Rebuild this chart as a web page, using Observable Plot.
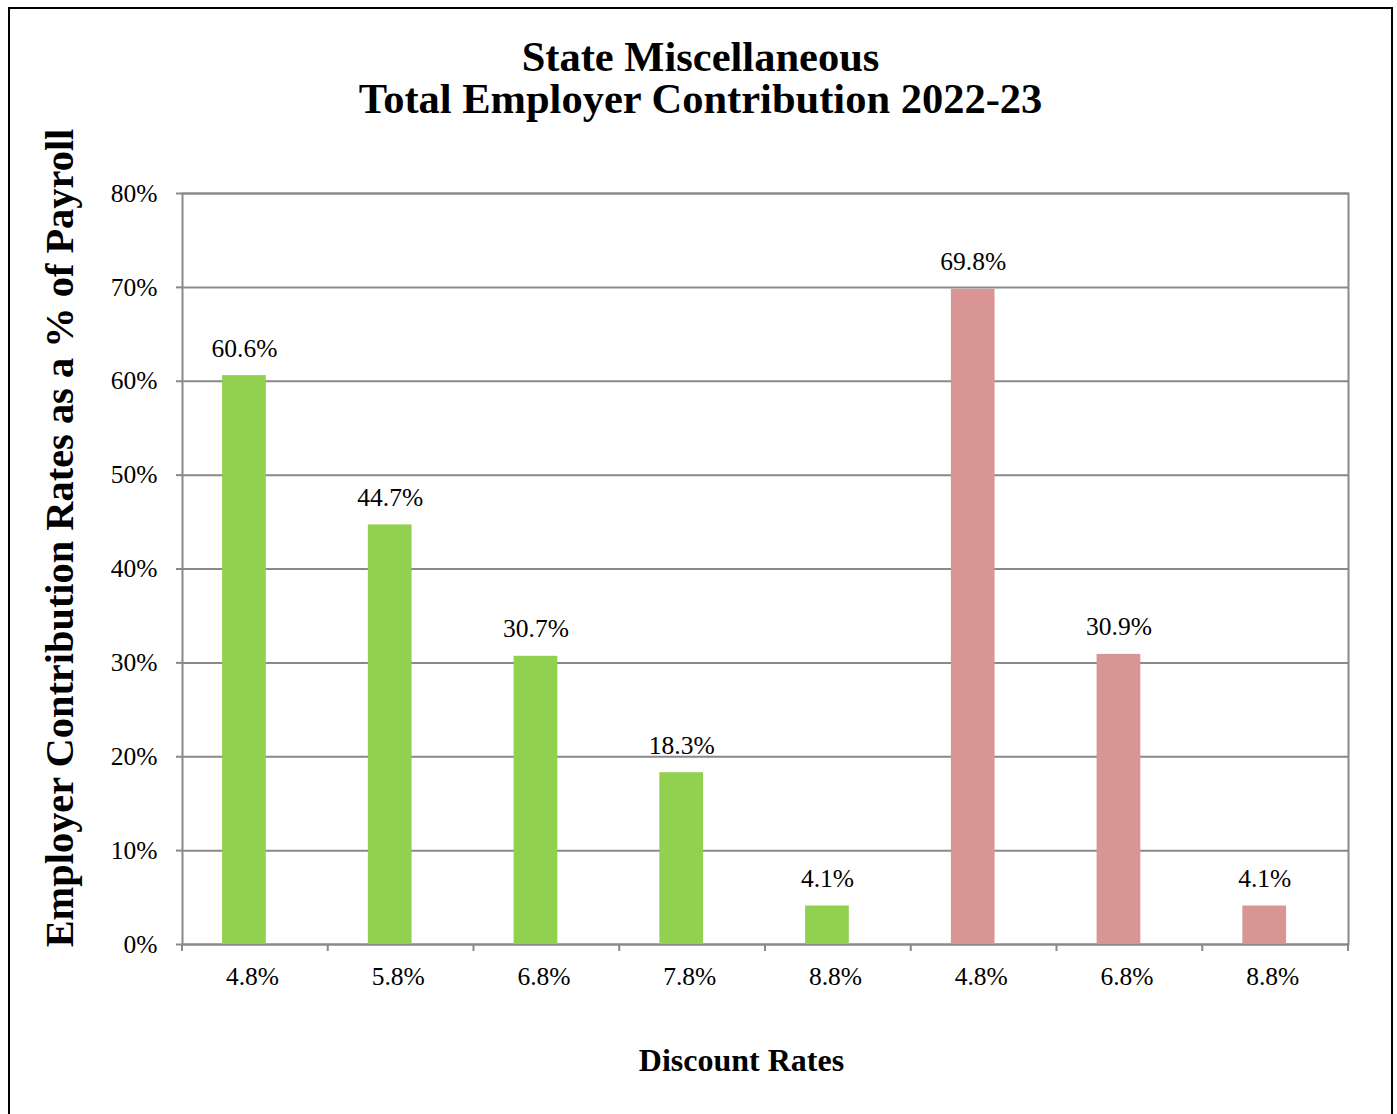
<!DOCTYPE html>
<html>
<head>
<meta charset="utf-8">
<script src="https://cdn.jsdelivr.net/npm/d3@7"></script>
<script src="https://cdn.jsdelivr.net/npm/@observablehq/plot@0.6"></script>
<style>
  html, body { margin: 0; padding: 0; overflow: hidden; background: white; }
  #wrap { position: relative; width: 1397px; height: 1114px; font-family: "Liberation Serif", "Times New Roman", serif; }
  #chart { position: absolute; left: 0; top: 0; }
  #border { position: absolute; left: 8px; top: 7px; width: 1385px; height: 1200px; box-sizing: border-box; border: 2px solid #000; pointer-events: none; }
  #title { position: absolute; left: 0; top: 36px; width: 1401px; text-align: center; font-weight: bold; font-size: 42.5px; line-height: 42px; color: #000; }
</style>
</head>
<body>
<div id="wrap">
  <div id="chart"></div>
  <div id="title">State Miscellaneous<br>Total Employer Contribution 2022-23</div>
  <div id="border"></div>
</div>
<script>
const categories = ["4.8%", "5.8%", "6.8%", "7.8%", "8.8%", "4.8%", "6.8%", "8.8%"];
const values = [60.6, 44.7, 30.7, 18.3, 4.1, 69.8, 30.9, 4.1];
const groups = ["a", "a", "a", "a", "a", "b", "b", "b"];
const yTicks = [0, 10, 20, 30, 40, 50, 60, 70, 80];

const keys = categories.map((_, i) => String(i));
const data = keys.map((k, i) => ({key: k, label: categories[i], value: values[i], group: groups[i]}));

const gray = "#898989";
const serif = "'Liberation Serif', 'Times New Roman', serif";

function boundaryTicks(index, scales, vals, dims) {
  const x0 = dims.marginLeft;
  const x1 = dims.width - dims.marginRight;
  const n = keys.length;
  const y0 = dims.height - dims.marginBottom;
  const g = d3.create("svg:g");
  for (let i = 0; i <= n; i++) {
    const px = x0 + (x1 - x0) * i / n;
    g.append("line")
      .attr("x1", px).attr("x2", px)
      .attr("y1", y0).attr("y2", y0 + 7)
      .attr("stroke", gray).attr("stroke-width", 2);
  }
  return g.node();
}

const plot = Plot.plot({
  width: 1397,
  height: 1114,
  marginTop: 193,
  marginRight: 49,
  marginBottom: 170,
  marginLeft: 182,
  style: {background: "transparent", fontFamily: serif, color: "black"},
  x: {domain: keys, paddingInner: 0.7, paddingOuter: 0.35, align: 0.393, round: false, label: null},
  y: {domain: [0, 80], label: null},
  color: {domain: ["a", "b"], range: ["#92D050", "#D99594"]},
  marks: [
    Plot.gridY(yTicks, {stroke: gray, strokeOpacity: 1, strokeWidth: 2}),
    Plot.frame({stroke: gray, strokeWidth: 2}),
    Plot.axisY(yTicks, {tickSize: 6, tickPadding: 19, stroke: gray, strokeWidth: 2, fill: "black", fontSize: 25.5, tickFormat: d => d + "%", label: null}),
    Plot.axisX({tickSize: 0, tickPadding: 22, dx: 8, fill: "black", fontSize: 25.5, tickFormat: k => categories[+k], label: null}),
    boundaryTicks,
    Plot.barY(data, {x: "key", y: "value", fill: "group"}),
    Plot.text(data, {x: "key", y: "value", text: d => d.value.toFixed(1) + "%", lineAnchor: "bottom", dy: -19, fontSize: 25.5, fill: "black"}),
    Plot.text(["Employer Contribution Rates as a % of Payroll"], {frameAnchor: "left", textAnchor: "middle", rotate: -90, dx: -122, dy: -31, fontSize: 40.4, fontWeight: "bold", fill: "black", lineAnchor: "middle"}),
    Plot.text(["Discount Rates"], {frameAnchor: "bottom", dx: -24, dy: 116, fontSize: 32, fontWeight: "bold", fill: "black", lineAnchor: "middle"})
  ]
});
document.getElementById("chart").appendChild(plot);
</script>
</body>
</html>
